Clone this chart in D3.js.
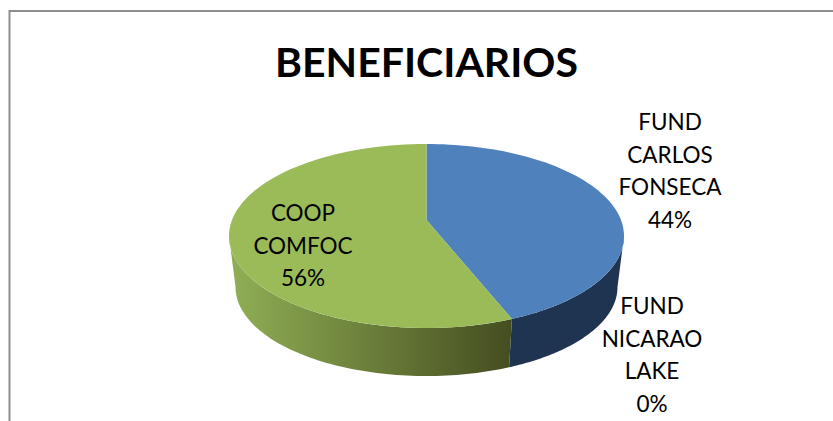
<!DOCTYPE html>
<html>
<head>
<meta charset="utf-8">
<script src="https://cdn.jsdelivr.net/npm/d3@7"></script>
<style>
  html, body { margin: 0; padding: 0; background: #fff; }
  svg { display: block; }
  text { font-family: Lato, "Open Sans", sans-serif; fill: #000; }
</style>
</head>
<body>
<div id="chart"></div>
<script>
// data
var categories = ["FUND CARLOS FONSECA", "FUND NICARAO LAKE", "COOP COMFOC"];
var percents = [44, 0, 56];
var label_lines = [["FUND", "CARLOS", "FONSECA", "44%"], ["FUND", "NICARAO", "LAKE", "0%"], ["COOP", "COMFOC", "56%"]];
var top_colors = ["#4F81BD", "#C0504D", "#9BBB59"];
var side_colors = ["#1F3450", "#7A2E2C", "url(#greenSide)"];
var chart_title = "BENEFICIARIOS";

var width = 833, height = 421;

var svg = d3.select("#chart").append("svg")
  .attr("width", width)
  .attr("height", height);

// frame, only top and left sides are in the crop
svg.append("path")
  .attr("d", "M9.5,421V11H833")
  .attr("fill", "none")
  .attr("stroke", "#8E8E8E")
  .attr("stroke-width", 2);

// dark end of the green wall
var grad = svg.append("defs").append("linearGradient")
  .attr("id", "greenSide")
  .attr("gradientUnits", "userSpaceOnUse")
  .attr("x1", 235).attr("x2", 510)
  .attr("y1", 0).attr("y2", 0);
grad.append("stop").attr("offset", "0").attr("stop-color", "#8FAD54");
grad.append("stop").attr("offset", "1").attr("stop-color", "#454E20");

// tilted disc: a circle seen in perspective
var centerX = 426.5,
    apexTop = 220,
    radiusX = 194.5,
    radiusY = 89.2,
    persp = 0.174;

function rim(angle, scale, offsetY) {
  var u = Math.sin(angle), v = -Math.cos(angle), w = 1 - persp * v;
  return [centerX + scale * radiusX * u / w, offsetY + scale * radiusY * v / w];
}

function rimPoints(a0, a1, scale, offsetY) {
  return d3.range(0, 1.0001, 1 / 80).map(function(t) {
    return rim(a0 + (a1 - a0) * t, scale, offsetY);
  });
}

var line = d3.line();

var pie = d3.pie().sort(null).value(function(d) { return d; });
var arcs = pie(percents);

// wall only shows between the right and left tangents of the disc
var frontFrom = Math.PI * 100 / 180,
    frontTo = Math.PI * 260 / 180;

arcs.forEach(function(d, i) {
  var a0 = Math.max(d.startAngle, frontFrom),
      a1 = Math.min(d.endAngle, frontTo);
  if (a1 <= a0) return;
  var pts = rimPoints(a0, a1, 1, apexTop)
    .concat(rimPoints(a1, a0, 0.967, 271.6));
  svg.append("path")
    .attr("d", line(pts) + "Z")
    .attr("fill", side_colors[i]);
});

arcs.forEach(function(d, i) {
  if (d.endAngle - d.startAngle <= 0) return;
  var pts = [[centerX, apexTop]].concat(rimPoints(d.startAngle, d.endAngle, 1, apexTop));
  svg.append("path")
    .attr("d", line(pts) + "Z")
    .attr("fill", top_colors[i]);
});

svg.append("text")
  .attr("x", 426.5)
  .attr("y", 76.5)
  .attr("text-anchor", "middle")
  .attr("font-size", 41)
  .attr("font-weight", 700)
  .text(chart_title);

// centre x, first baseline
var label_pos = [[670, 130], [652, 314], [303, 221]];

label_lines.forEach(function(lines, i) {
  lines.forEach(function(s, j) {
    svg.append("text")
      .attr("x", label_pos[i][0])
      .attr("y", label_pos[i][1] + j * 32.6)
      .attr("text-anchor", "middle")
      .attr("font-size", 22.5)
      .text(s);
  });
});
</script>
</body>
</html>
